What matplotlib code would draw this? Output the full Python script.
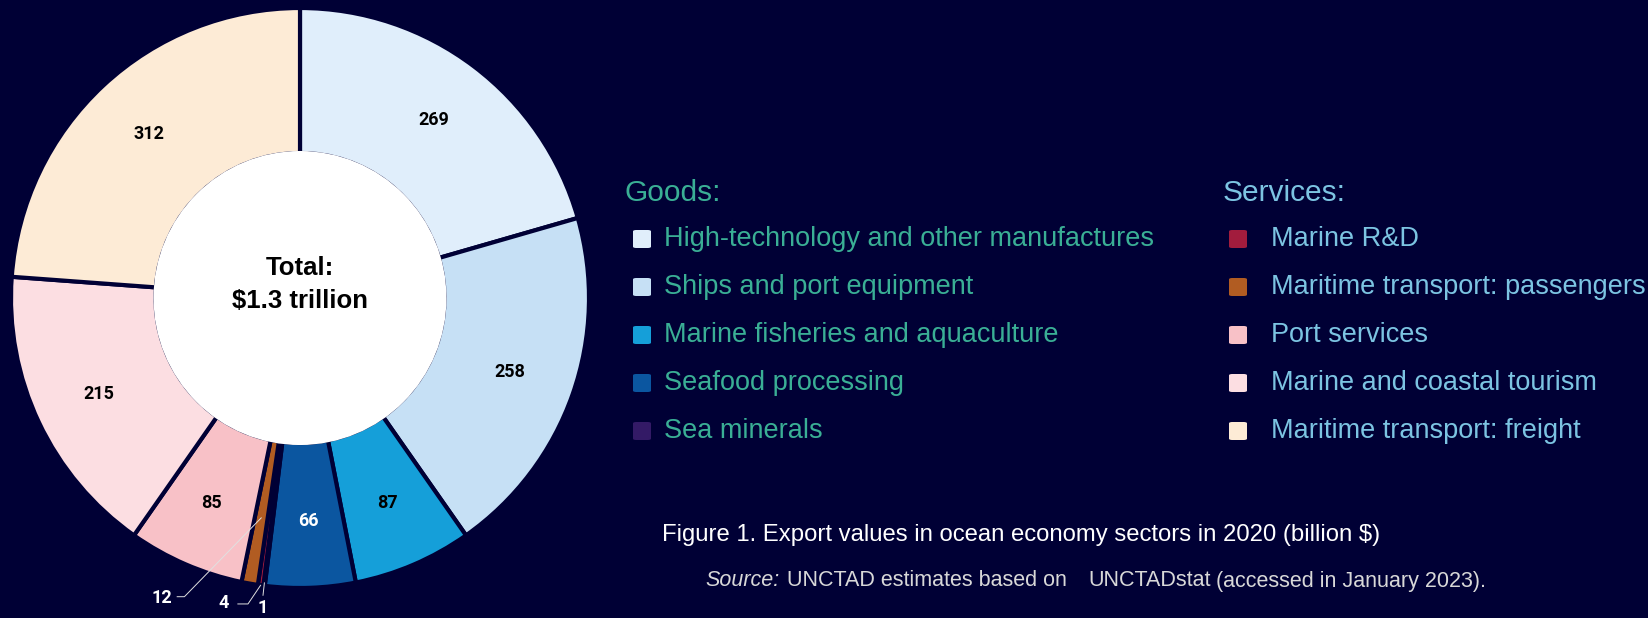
import matplotlib.pyplot as plt
import numpy as np
from matplotlib.patches import Circle, FancyBboxPatch

# data (billion $), clockwise from 12 o'clock
sectors = ["High-technology and other manufactures", "Ships and port equipment",
           "Marine fisheries and aquaculture", "Seafood processing", "Sea minerals",
           "Marine R&D", "Maritime transport: passengers", "Port services",
           "Marine and coastal tourism", "Maritime transport: freight"]
values = [269, 258, 87, 66, 1, 4, 12, 85, 215, 312]
colors = ["#e0eefb", "#c6e0f5", "#159fd9", "#0b56a0", "#331a66",
          "#a21c3d", "#b15c22", "#f8c1c7", "#fcdee2", "#fdebd6"]

goods = ["High-technology and other manufactures", "Ships and port equipment",
         "Marine fisheries and aquaculture", "Seafood processing", "Sea minerals"]
services = ["Marine R&D", "Maritime transport: passengers", "Port services",
            "Marine and coastal tourism", "Maritime transport: freight"]

bg = "#000035"
W, H = 1648, 618
fig = plt.figure(figsize=(W / 100, H / 100), dpi=100, facecolor=bg)

# donut axes, centre ~ (300, 298) px, radius ~ 288 x 290 px
cx, cy, rx, ry = 300, 298, 289, 290
ax = fig.add_axes([(cx - rx) / W, (H - cy - ry) / H, 2 * rx / W, 2 * ry / H])
ax.set_facecolor(bg)

wedges, _ = ax.pie(values, colors=colors, startangle=90, counterclock=False,
                   radius=1, wedgeprops=dict(width=0.5, edgecolor=bg, linewidth=3))
# white hole (slightly larger to hide the inner edge lines)
ax.add_patch(Circle((0, 0), 0.507, facecolor="white", edgecolor="none", zorder=3))
ax.set_aspect("auto")
ax.set_xlim(-1, 1)
ax.set_ylim(-1, 1)
ax.axis("off")

# value labels inside the ring
for w, v in zip(wedges, values):
    ang = np.deg2rad((w.theta1 + w.theta2) / 2)
    if v < 50:
        continue
    col = "white" if v == 66 else "black"
    ax.text(0.77 * np.cos(ang), 0.77 * np.sin(ang), str(v), ha="center", va="center",
            fontsize=13, fontweight="bold", color=col, family="Roboto", zorder=4)

# small slices: leader lines
small = {6: ((-0.478, -1.035), [(-0.425, -1.03), (-0.40, -1.03)], 0.77),
         5: ((-0.265, -1.05), [(-0.215, -1.055), (-0.18, -1.055)], 1.0),
         4: ((-0.128, -1.07), [(-0.128, -1.025)], 0.99)}
for i, (tpos, pts, r) in small.items():
    w = wedges[i]
    ang = np.deg2rad((w.theta1 + w.theta2) / 2)
    end = (r * np.cos(ang), r * np.sin(ang))
    xs = [p[0] for p in pts] + [end[0]]
    ys = [p[1] for p in pts] + [end[1]]
    ax.plot(xs, ys, color="#e0e0e0", lw=0.7, clip_on=False, zorder=5)
    ax.text(tpos[0], tpos[1], str(values[i]), ha="center", va="center", fontsize=13,
            fontweight="bold", color="white", family="Roboto", clip_on=False)

ax.text(0, 0.105, "Total:", ha="center", va="center", fontsize=18.5, fontweight="bold",
        family="Liberation Sans", color="black", zorder=4)
ax.text(0, -0.01, "$1.3 trillion", ha="center", va="center", fontsize=18.5,
        fontweight="bold", family="Liberation Sans", color="black", zorder=4)

# legends
lfont = ["Liberation Sans", "DejaVu Sans"]
goods_col = "#3aaf95"
serv_col = "#7cc4e2"
row_y = [239, 287, 335, 383, 431]


def legend_block(names, hx, mx, tx, title, tcol):
    fig.text(hx / W, 1 - 193 / H, title, ha="left", va="center", fontsize=21.5,
             color=tcol, family=lfont)
    for name, y in zip(names, row_y):
        c = colors[sectors.index(name)]
        fig.patches.append(FancyBboxPatch(((mx - 9) / W, 1 - (y + 9) / H), 18 / W, 18 / H,
                                          boxstyle="round,pad=0,rounding_size=0.002",
                                          transform=fig.transFigure, facecolor=c,
                                          edgecolor="none"))
        fig.text(tx / W, 1 - y / H, name, ha="left", va="center", fontsize=19.5,
                 color=tcol, family=lfont)


legend_block(goods, 625, 642, 664, "Goods:", goods_col)
legend_block(services, 1223, 1238, 1271, "Services:", serv_col)

fig.text(662 / W, 1 - 535 / H, "Figure 1. Export values in ocean economy sectors in 2020 (billion $)",
         ha="left", va="center", fontsize=17.2, color="white", family=lfont)
src_col = "#d8d8d8"
fig.text(705 / W, 1 - 581 / H, "Source:", ha="left", va="center", fontsize=15.5,
         style="italic", color=src_col, family=lfont)
fig.text(787 / W, 1 - 581 / H, "UNCTAD estimates based on", ha="left", va="center",
         fontsize=15.5, color=src_col, family=lfont)
fig.text(1088 / W, 1 - 581 / H, "UNCTADstat", ha="left", va="center",
         fontsize=15.5, color=src_col, family=lfont)
fig.text(1216 / W, 1 - 581 / H, "(accessed in January 2023).", ha="left", va="center",
         fontsize=15.5, color=src_col, family=lfont)

fig.savefig("out.png", dpi=100, facecolor=bg)
